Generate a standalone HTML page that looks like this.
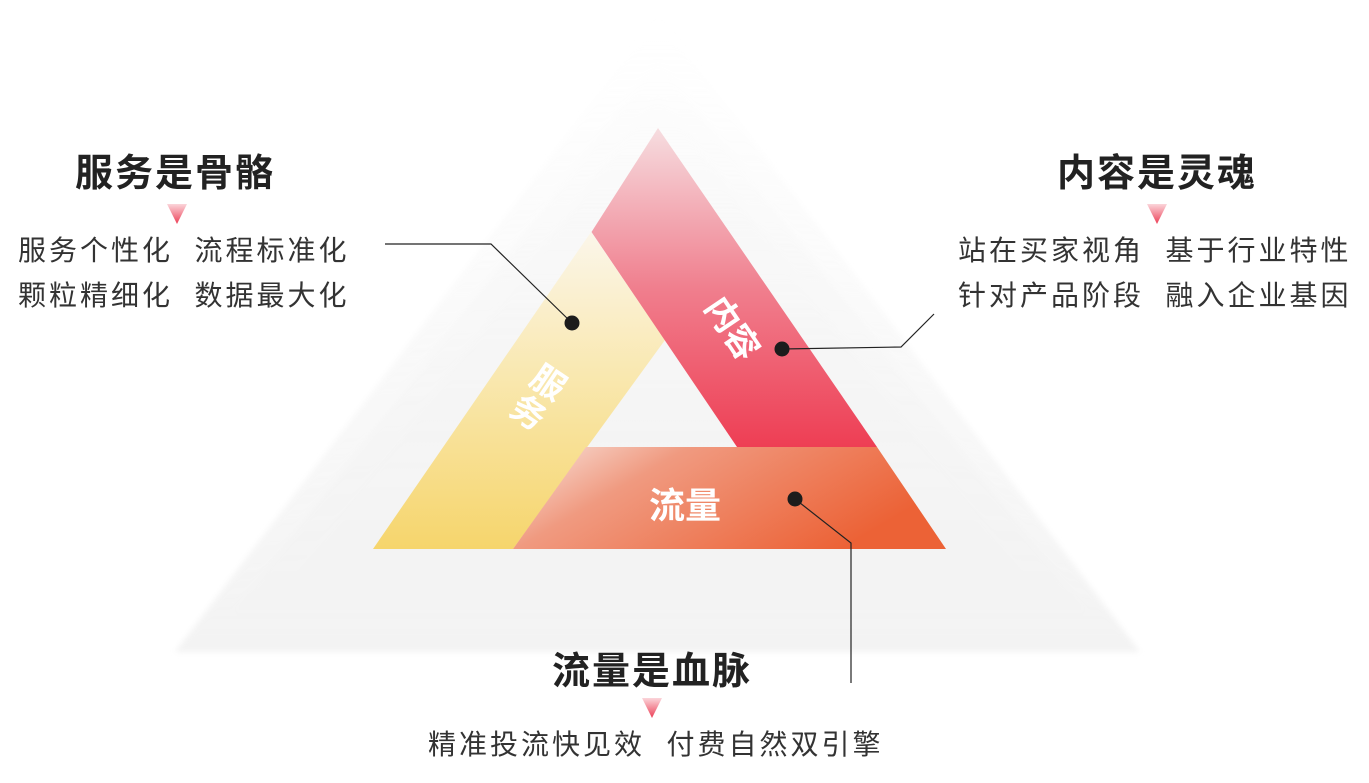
<!DOCTYPE html>
<html><head><meta charset="utf-8"><style>
html,body{margin:0;padding:0;background:#fff;}
body{width:1369px;height:783px;position:relative;overflow:hidden;font-family:"Liberation Sans","Noto Sans CJK SC",sans-serif;}
.t{position:absolute;color:#222;white-space:nowrap;}
.h{font-weight:bold;font-size:38px;letter-spacing:2px;}
.b{font-size:28px;letter-spacing:3px;color:#333;line-height:45px;}
</style></head><body>
<svg width="1369" height="783" style="position:absolute;left:0;top:0">
<defs>
<linearGradient id="g" x1="0" y1="0" x2="0" y2="1">
<stop offset="0" stop-color="#f4f4f4" stop-opacity="0"/><stop offset="0.5" stop-color="#f2f2f2" stop-opacity="0.6"/><stop offset="1" stop-color="#eeeeee" stop-opacity="1"/></linearGradient>
<linearGradient id="yel" x1="0" y1="0" x2="0" y2="1">
<stop offset="0" stop-color="#fbf6ea"/><stop offset="0.45" stop-color="#f9e8b0"/><stop offset="1" stop-color="#f6d56c"/></linearGradient>
<linearGradient id="red" x1="0" y1="0" x2="0" y2="1">
<stop offset="0" stop-color="#f6dde0"/><stop offset="0.5" stop-color="#f07f8e"/><stop offset="1" stop-color="#ee3e54"/></linearGradient>
<linearGradient id="org" x1="0" y1="0" x2="1" y2="0.4">
<stop offset="0" stop-color="#f8e6e0"/><stop offset="0.35" stop-color="#f09a80"/><stop offset="1" stop-color="#ec6236"/></linearGradient>
<linearGradient id="ar" x1="0" y1="0" x2="0" y2="1">
<stop offset="0" stop-color="#fbd5da"/><stop offset="1" stop-color="#ec3f56"/></linearGradient>
<filter id="bl"><feGaussianBlur stdDeviation="3"/></filter>
</defs>
<g filter="url(#bl)" opacity="0.7">
<polygon points="658,15 175,652 1140,652" fill="url(#g)"/>
<polygon points="658,60 235,610 1085,610" fill="url(#g)"/>
<polygon points="658,95 295,578 1025,578" fill="url(#g)"/>
</g>
<polygon points="591,232 665,340 513,549 373,549" fill="url(#yel)"/>
<polygon points="658,128 877,447 737,447 591.5,232" fill="url(#red)"/>
<polygon points="586,447 877,447 946,549 513,549" fill="url(#org)"/>
<polyline points="385,244 491,244 572,323" fill="none" stroke="#222" stroke-width="1.2"/>
<polyline points="782,349 901,347 934,314" fill="none" stroke="#222" stroke-width="1.2"/>
<polyline points="795,499 851,543 851,683" fill="none" stroke="#222" stroke-width="1.2"/>
<circle cx="572" cy="323" r="7.5" fill="#1c1c1c"/>
<circle cx="782" cy="349" r="7.5" fill="#1c1c1c"/>
<circle cx="795" cy="499" r="7.5" fill="#1c1c1c"/>
<g fill="url(#ar)">
<polygon points="167,204 187,204 177,224"/>
<polygon points="1147,204 1167,204 1157,224"/>
<polygon points="642,698 662,698 652,718"/>
</g>
<text x="730" y="330" font-size="34" font-weight="bold" fill="#fff" text-anchor="middle" dominant-baseline="middle" transform="rotate(56 730 330)" font-family="Liberation Sans, Noto Sans CJK SC, sans-serif">内容</text>
<g transform="rotate(34 540 395)" font-size="34" font-weight="bold" fill="#fff" font-family="Liberation Sans, Noto Sans CJK SC, sans-serif" text-anchor="middle">
<text x="540" y="392">服</text><text x="540" y="428">务</text></g>
<text x="685" y="518" font-size="36" font-weight="bold" fill="#fff" text-anchor="middle" font-family="Liberation Sans, Noto Sans CJK SC, sans-serif">流量</text>
</svg>
<div class="t h" style="left:75px;top:142px;">服务是骨骼</div>
<div class="t b" style="left:18px;top:228px;">服务个性化&nbsp;&nbsp;流程标准化<br>颗粒精细化&nbsp;&nbsp;数据最大化</div>
<div class="t h" style="left:1057px;top:142px;">内容是灵魂</div>
<div class="t b" style="left:958px;top:228px;">站在买家视角&nbsp;&nbsp;基于行业特性<br>针对产品阶段&nbsp;&nbsp;融入企业基因</div>
<div class="t h" style="left:552px;top:640px;">流量是血脉</div>
<div class="t b" style="left:428px;top:722px;">精准投流快见效&nbsp;&nbsp;付费自然双引擎</div>
</body></html>
